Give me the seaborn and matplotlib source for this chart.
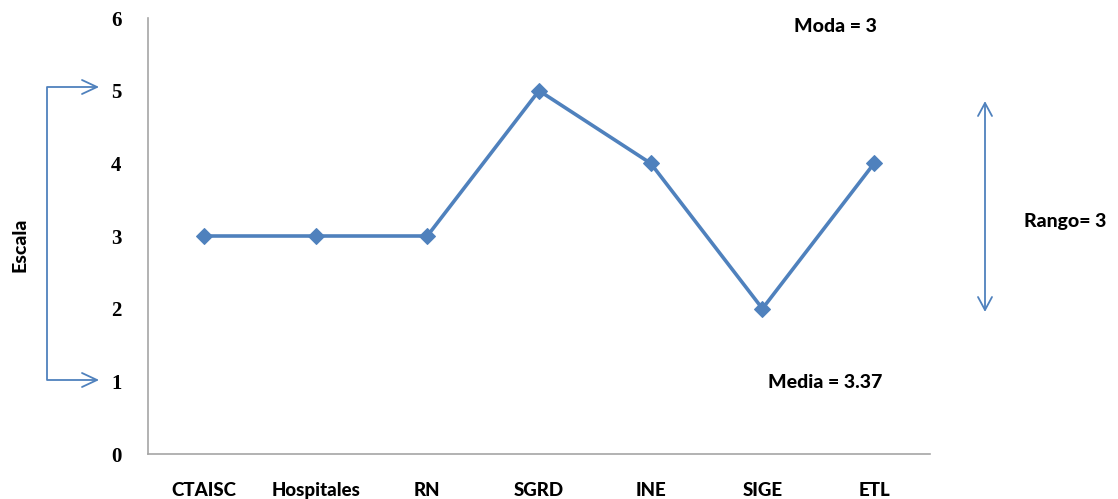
import matplotlib
matplotlib.use("Agg")
import matplotlib.pyplot as plt
import seaborn as sns
import pandas as pd
from matplotlib.lines import Line2D

categorias = ["CTAISC", "Hospitales", "RN", "SGRD", "INE", "SIGE", "ETL"]
escala = [3, 3, 3, 5, 4, 2, 4]
y_ticks = [0, 1, 2, 3, 4, 5, 6]

AZUL = "#4F81BD"
GRIS = "#A6A6A6"
SANS = ["Lato", "DejaVu Sans"]
SERIF = ["Liberation Serif", "DejaVu Serif"]

sns.set_theme(style="white")

W, H = 1118, 499
fig = plt.figure(figsize=(W / 100, H / 100), dpi=100)
ax = fig.add_axes([148 / W, 1 - 454 / H, (930 - 148) / W, (454 - 18) / H])

df = pd.DataFrame({"categoria": categorias, "escala": escala})
sns.lineplot(data=df, x="categoria", y="escala", sort=False, color=AZUL,
             linewidth=2.6, marker="D", markersize=8.5, markeredgecolor=AZUL, ax=ax)

ax.set_xlim(-0.5, len(categorias) - 0.5)
ax.set_ylim(0, 6)
ax.set_yticks(y_ticks)
ax.set_yticklabels([str(v) for v in y_ticks], fontfamily=SERIF, fontweight="bold",
                   fontsize=15, color="black")
ax.set_xticks(range(len(categorias)))
ax.set_xticklabels(categorias, fontfamily=SANS, fontweight=900, fontsize=13.5, color="black")
ax.tick_params(axis="x", length=0, pad=20)
ax.tick_params(axis="y", length=0, pad=19)
ax.set_xlabel("")
ax.set_ylabel("")
for s in ["top", "right"]:
    ax.spines[s].set_visible(False)
for s in ["left", "bottom"]:
    ax.spines[s].set_color(GRIS)
    ax.spines[s].set_linewidth(1.2)


def fx(px):
    return px / W


def fy(py):
    return 1 - py / H


# Bracket marking the scale from 1 to 5
fig.add_artist(Line2D([fx(97), fx(47), fx(47), fx(97)], [fy(87), fy(87), fy(380), fy(380)],
                      transform=fig.transFigure, color=AZUL, linewidth=1.3))
for py in (87, 380):
    fig.add_artist(Line2D([fx(82), fx(97), fx(82)], [fy(py - 7), fy(py), fy(py + 7)],
                          transform=fig.transFigure, color=AZUL, linewidth=1.3))

# Double arrow for the range
fig.add_artist(Line2D([fx(985), fx(985)], [fy(103), fy(310)],
                      transform=fig.transFigure, color=AZUL, linewidth=1.3))
fig.add_artist(Line2D([fx(978), fx(985), fx(992)], [fy(116), fy(103), fy(116)],
                      transform=fig.transFigure, color=AZUL, linewidth=1.3))
fig.add_artist(Line2D([fx(978), fx(985), fx(992)], [fy(297), fy(310), fy(297)],
                      transform=fig.transFigure, color=AZUL, linewidth=1.3))

kw = dict(fontfamily=SANS, fontweight=900, fontsize=14, color="black")
fig.text(fx(20), fy(245), "Escala", rotation=90, ha="center", va="center", **kw)
fig.text(fx(835), fy(27), "Moda = 3", ha="center", va="center", **kw)
fig.text(fx(1024), fy(221), "Rango= 3", ha="left", va="center", **kw)
fig.text(fx(825), fy(382), "Media = 3.37", ha="center", va="center", **kw)

fig.savefig("out.png", dpi=100, facecolor="white")
